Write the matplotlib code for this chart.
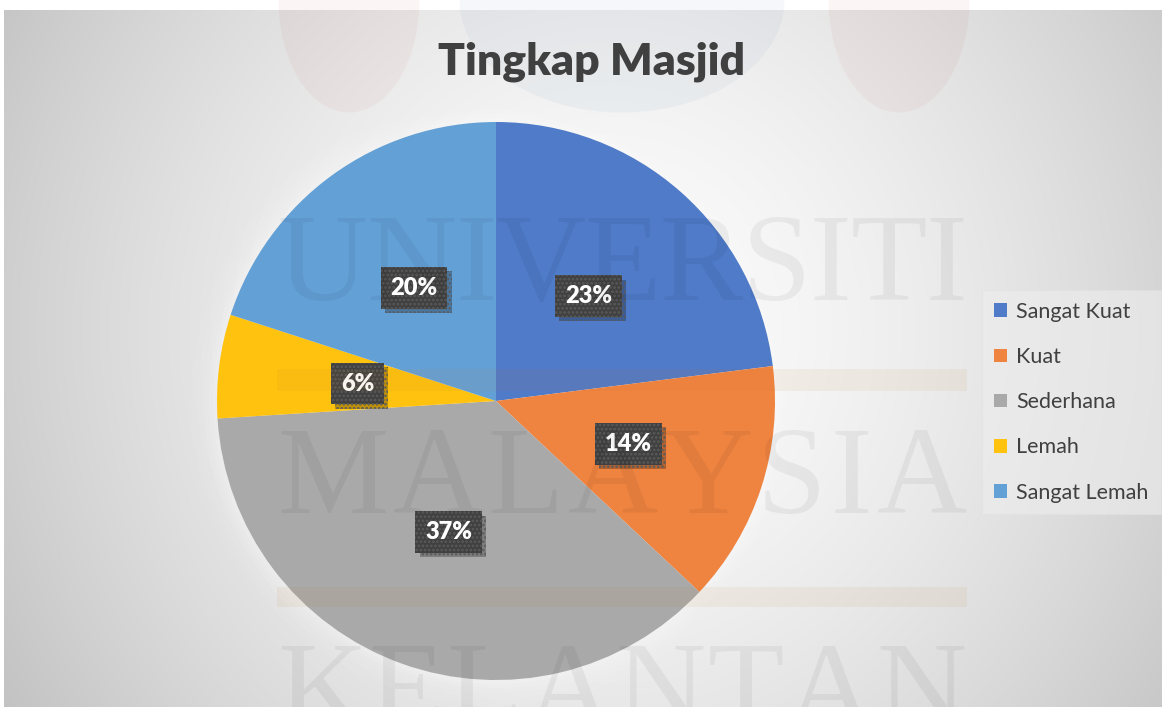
import numpy as np
import matplotlib
matplotlib.use("Agg")
import matplotlib.pyplot as plt
from matplotlib.patches import Rectangle, Ellipse, Circle
import matplotlib.patheffects as pe

# ---- data ----
categories = ["Sangat Kuat", "Kuat", "Sederhana", "Lemah", "Sangat Lemah"]
values = [23, 14, 37, 6, 20]
colors = ["#4F7BC8", "#EF8340", "#A9A9A9", "#FFC20E", "#63A0D6"]
title = "Tingkap Masjid"
watermark_lines = ["UNIVERSITI", "MALAYSIA", "KELANTAN"]

plt.rcParams['font.family'] = ['Lato', 'DejaVu Sans']
plt.rcParams['hatch.linewidth'] = 1.3

W, H = 1162, 707
fig = plt.figure(figsize=(W / 100, H / 100), dpi=100)
fig.patch.set_facecolor("white")

# ---- background (pixel coordinate axes) ----
bg = fig.add_axes([0, 0, 1, 1], zorder=0)
bg.set_xlim(0, W)
bg.set_ylim(H, 0)
bg.axis("off")
xx, yy = np.meshgrid(np.linspace(4, W, 400), np.linspace(10, H, 250))
r = np.sqrt(((xx - 610) / 600) ** 2 + ((yy - 330) / 620) ** 2)
v = np.clip(252 - 44 * r ** 1.6, 190, 252) / 255.0
bg.imshow(np.dstack([v, v, v]), extent=[4, W, H, 10], aspect="auto",
          interpolation="bilinear", zorder=0)

# soft glow around the pie
cx, cy, R = 496, 401, 279
for dr, a in [(26, 0.05), (19, 0.06), (13, 0.08), (8, 0.10), (4, 0.12)]:
    bg.add_patch(Circle((cx, cy), R + dr, color="white", alpha=a, lw=0, zorder=1))

# ---- pie ----
ax = fig.add_axes([(cx - R) / W, 1 - (cy + R) / H, 2 * R / W, 2 * R / H], zorder=1)
ax.set_facecolor("none")
wedges, _, autotexts = ax.pie(values, colors=colors, startangle=90, counterclock=False,
                              autopct=lambda p: f"{p:.0f}%", pctdistance=0.5,
                              radius=1.0, wedgeprops=dict(linewidth=0))
ax.set_xlim(-1, 1)
ax.set_ylim(-1, 1)
ax.set_aspect("equal")

for t in autotexts:
    t.set_color("white")
    t.set_fontsize(17)
    t.set_fontweight("heavy")
    t.set_zorder(6)
    t.set_bbox(dict(boxstyle="square,pad=0.42", facecolor="#404040",
                    edgecolor="#5a5a5a", linewidth=0, hatch="...."))
    t.get_bbox_patch().set_path_effects(
        [pe.SimplePatchShadow(offset=(3, -3), shadow_rgbFace="black", alpha=0.25),
         pe.Normal()])

# ---- watermark overlay ----
wm = fig.add_axes([0, 0, 1, 1], zorder=2)
wm.set_xlim(0, W)
wm.set_ylim(H, 0)
wm.axis("off")
wm.patch.set_alpha(0)
for xc, wdt, col in [(349, 141, "#c04040"), (899, 141, "#c04040"), (622, 325, "#4070a0")]:
    wm.add_patch(Ellipse((xc, 0), wdt, 225, color=col, alpha=0.05, lw=0))
for y0, y1 in [(369, 391), (587, 607)]:
    wm.add_patch(Rectangle((277, y0), 690, y1 - y0, color="#c87830", alpha=0.075, lw=0))

fig.canvas.draw()
renderer = fig.canvas.get_renderer()
x_left, x_right = 277, 967
for txt, ytop in zip(watermark_lines, [227, 440, 655]):
    letters = []
    widths = []
    for ch in txt:
        lt = wm.text(0, ytop + 43, ch, ha="left", va="center", fontsize=90,
                     family="Liberation Serif", color="black", alpha=0.05)
        bb = lt.get_window_extent(renderer)
        letters.append(lt)
        widths.append(bb.width)
    gap = (x_right - x_left - sum(widths)) / (len(txt) - 1)
    x = x_left
    for lt, w in zip(letters, widths):
        lt.set_x(x)
        x += w + gap

# ---- title ----
fig.text(592 / W, 1 - 62 / H, title, ha="center", va="center", fontsize=32,
         fontweight="heavy", color="#404040", zorder=5)

# ---- legend ----
leg = fig.legend(wedges, categories, loc="upper left",
                 bbox_to_anchor=(982 / W, 1 - 290 / H), frameon=True, fontsize=15.5,
                 handlelength=0.6, handleheight=0.6, handletextpad=0.45,
                 labelspacing=1.17, borderpad=0.55, borderaxespad=0,
                 fancybox=False)
leg.get_frame().set_facecolor("#eeeeee")
leg.get_frame().set_alpha(0.6)
leg.get_frame().set_edgecolor("#e2e2e2")
leg.get_frame().set_linewidth(0.8)
leg.set_zorder(6)
for t in leg.get_texts():
    t.set_color("#404040")

fig.savefig("out.png", dpi=100)
